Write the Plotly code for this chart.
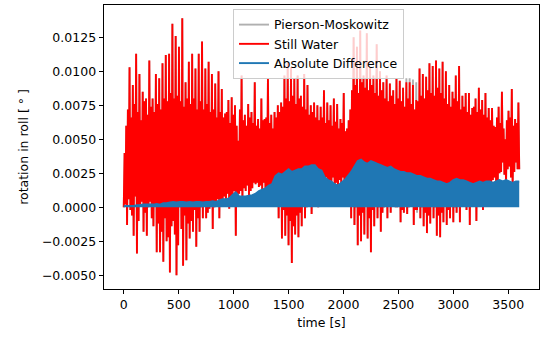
import numpy as np
import plotly.graph_objects as go

# ---- data (roll rotation, units of 1e-4 degrees) ----
block_s = 30  # each block: trough, small peak, small trough, large peak (7.5 s apart)

# Still Water: main troughs at t = 0, 30, ..., 3600
sw_troughs = [
    0, -13, -2, -21, -34, 2, -18, -21, 4, -14,
    -33, -33, -40, -25, -48, -10, -50, 0, -43, -39,
    -23, -18, -29, -18, -8, -8, -1, -16, 2, -8,
    5, 1, -1, 8, -21, 10, 6, 12, 9, 14,
    17, 15, 13, 12, 14, 12, 10, -8, -23, -21,
    -28, -41, -20, -22, -14, -8, 2, -5, 8, 0,
    18, 20, 16, 18, 15, 14, 16, 10, 5, -8,
    -13, -28, -25, -20, -23, -33, -14, -8, -18, 0,
    -8, -4, 2, 0, -11, -4, -5, 3, -13, -2,
    -8, -14, -19, -12, -8, -21, -22, -11, -13, -8,
    -11, -4, -11, 2, -2, -13, 2, -10, 6, -2,
    4, 12, 20, 18, 25, 33, 18, 30, 16, 33,
    28,
]
# Still Water: secondary peaks at t = 7.5, 37.5, ...
sw_peaks_b = [
    40, 72, 66, 76, 70, 64, 78, 68, 74, 70,
    76, 72, 80, 78, 84, 80, 82, 78, 74, 80,
    76, 80, 72, 78, 72, 76, 70, 72, 66, 70,
    66, 70, 62, 68, 60, 72, 64, 60, 66, 62,
    60, 58, 64, 66, 62, 58, 66, 70, 74, 80,
    78, 82, 76, 80, 74, 72, 68, 70, 66, 64,
    66, 62, 64, 60, 63, 58, 62, 56, 64, 86,
    90, 84, 92, 88, 86, 90, 84, 82, 86, 80,
    78, 82, 76, 80, 78, 74, 80, 76, 72, 78,
    82, 80, 86, 84, 82, 88, 84, 80, 76, 74,
    80, 78, 72, 74, 70, 68, 74, 70, 72, 68,
    66, 64, 60, 66, 62, 58, 64, 66, 60, 62,
]
# Still Water: secondary troughs at t = 15, 45, ...
sw_troughs_b = [
    2, 6, -6, 8, -10, 4, -4, 0, -8, 2,
    -12, -18, -8, -22, -14, -20, -28, -16, -6, -12,
    -10, -2, -8, 0, 2, -4, 4, 0, 6, 4,
    8, 10, 6, 12, 4, 12, 14, 16, 12, 18,
    18, 16, 18, 14, 16, 14, 12, 4, -2, -6,
    -10, -14, -6, -4, 2, 0, 6, 4, 10, 8,
    20, 22, 20, 22, 18, 20, 22, 16, 14, 6,
    0, -6, -4, 2, -8, -2, 4, 0, -4, 6,
    2, 6, 0, 4, -2, 2, 0, 6, -2, 4,
    0, -4, -6, 2, 0, -6, -4, 2, -2, 2,
    0, 4, 2, 8, 4, 2, 10, 4, 12, 6,
    14, 18, 22, 20, 26, 24, 28, 22, 26, 28,
]
# Still Water: main peaks at t = 22.5, 52.5, ...
sw_peaks = [
    60, 103, 90, 113, 98, 85, 80, 108, 80, 98,
    95, 106, 112, 113, 135, 126, 118, 139, 92, 107,
    113, 102, 113, 122, 102, 107, 98, 91, 100, 87,
    69, 79, 81, 75, 49, 97, 68, 76, 70, 92,
    65, 80, 65, 95, 68, 70, 75, 77, 97, 106,
    103, 95, 97, 82, 98, 90, 75, 77, 75, 74,
    86, 77, 75, 80, 76, 65, 84, 58, 72, 125,
    118, 130, 97, 128, 103, 97, 120, 100, 92, 97,
    91, 86, 95, 93, 88, 92, 92, 90, 79, 102,
    98, 96, 106, 104, 108, 102, 107, 100, 90, 85,
    97, 104, 82, 84, 84, 73, 80, 88, 79, 84,
    73, 73, 59, 74, 85, 50, 71, 87, 65, 77,
]
# Pierson-Moskowitz follows Still Water almost exactly; where it differs visibly:
pm_peak_changes = {85: 95, 86: 95, 87: 94, 88: 92}
pm_trough_changes = {89: -4}

# Absolute difference envelope at t = 0, 30, ..., 3600
diff_env = [
    1, 1, 1, 1, 1.5, 1.5, 2, 2, 2, 2,
    2.5, 2, 3, 3, 3.5, 4, 3.5, 4, 4, 3.5,
    4, 3.5, 4, 4, 3.5, 4, 4, 4.5, 4, 5,
    6, 6, 6.5, 9, 11, 8, 8, 8, 8.5, 9,
    10, 12, 13, 14, 16, 17, 23, 25, 24, 26,
    28, 26, 27, 28, 28, 30, 30, 31, 31, 28,
    27, 22, 20, 19, 17, 16, 18, 20, 23, 26,
    30, 34, 35, 33, 32, 34, 33, 32, 31, 30,
    29, 30, 28, 27, 26, 26, 25, 25, 24, 23,
    23, 22, 21, 21, 20, 19, 19, 18, 17, 18,
    20, 21, 20, 20, 19, 18, 17, 18, 19, 18,
    19, 19, 18, 19, 20, 19, 20, 19, 18, 19,
    19,
]

x_ticks = [0, 500, 1000, 1500, 2000, 2500, 3000, 3500]
y_ticks = [-0.005, -0.0025, 0.0, 0.0025, 0.005, 0.0075, 0.01, 0.0125]
scale = 1e-4


def build(troughs, peaks_b, troughs_b, peaks):
    vals = []
    for k in range(len(peaks)):
        vals += [troughs[k], peaks_b[k], troughs_b[k], peaks[k]]
    vals.append(troughs[-1])
    return np.array(vals, dtype=float) * scale


sw_vals = build(sw_troughs, sw_peaks_b, sw_troughs_b, sw_peaks)
pm_p = list(sw_peaks)
pm_t = list(sw_troughs)
for k, v in pm_peak_changes.items():
    pm_p[k] = v
for k, v in pm_trough_changes.items():
    pm_t[k] = v
pm_vals = build(pm_t, sw_peaks_b, sw_troughs_b, pm_p)
t_sw = np.arange(len(sw_vals)) * (block_s / 4)
diff_vals = np.array(diff_env, dtype=float) * scale
t_diff = np.arange(len(diff_vals)) * block_s

FONT = "DejaVu Sans"
FS = 12.5
LW = 1.9
fig = go.Figure()
fig.add_trace(go.Scatter(x=t_sw, y=pm_vals, mode="lines", name="Pierson-Moskowitz",
                         line=dict(color="#b0b0b0", width=LW, simplify=False)))
fig.add_trace(go.Scatter(x=t_sw, y=sw_vals, mode="lines", name="Still Water",
                         line=dict(color="#ff0000", width=LW, simplify=False)))
fig.add_trace(go.Scatter(x=t_diff, y=diff_vals, mode="lines", name="Absolute Difference",
                         fill="tozeroy", fillcolor="#1f77b4", showlegend=False,
                         line=dict(color="#1f77b4", width=LW, simplify=False)))
fig.add_trace(go.Scatter(x=[None], y=[None], mode="lines", name="Absolute Difference",
                         line=dict(color="#1f77b4", width=LW)))

fig.update_layout(
    width=542, height=338,
    margin=dict(l=104, r=3, t=5, b=49),
    paper_bgcolor="white", plot_bgcolor="white",
    font=dict(family=FONT, size=FS, color="#000"),
    showlegend=True,
    legend=dict(x=0.2966, y=0.986, xanchor="left", yanchor="top",
                bgcolor="rgba(255,255,255,0.8)", bordercolor="#cccccc", borderwidth=1,
                font=dict(family=FONT, size=FS, color="#000"),
                itemwidth=30, tracegroupgap=0),
    xaxis=dict(range=[-180, 3780], tickvals=x_ticks, ticks="outside", ticklen=4.4,
               tickwidth=1, tickcolor="#000", showline=True, linecolor="#000",
               linewidth=1, mirror=True, showgrid=False, zeroline=False,
               title=dict(text="time [s]", font=dict(family=FONT, size=FS), standoff=6),
               tickfont=dict(family=FONT, size=FS)),
    yaxis=dict(range=[-0.00601, 0.01488], tickvals=y_ticks, tickformat=".4f",
               ticks="outside", ticklen=4.4, tickwidth=1, tickcolor="#000",
               showline=True, linecolor="#000", linewidth=1, mirror=True,
               showgrid=False, zeroline=False,
               title=dict(text="rotation in roll [ ° ]", font=dict(family=FONT, size=FS), standoff=10),
               tickfont=dict(family=FONT, size=FS)),
)
fig.write_html("out.html")
